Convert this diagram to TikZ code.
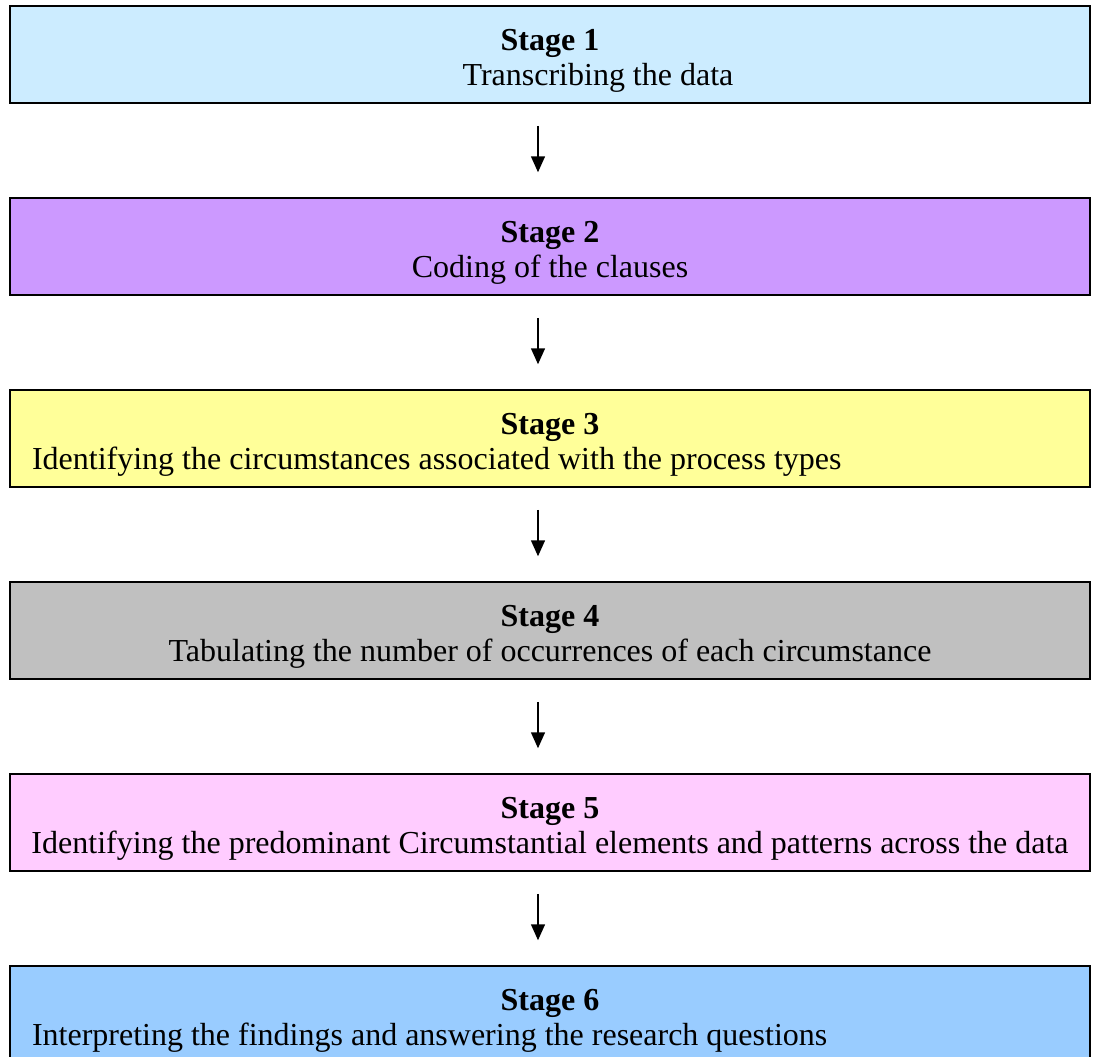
\documentclass[tikz,border=0pt]{standalone}
\usepackage{fontspec}
\setmainfont{Liberation Serif}
\usetikzlibrary{positioning,arrows.meta}
\definecolor{stageone}{HTML}{CCECFF}
\definecolor{stagetwo}{HTML}{CC99FF}
\definecolor{stagethree}{HTML}{FFFF99}
\definecolor{stagefour}{HTML}{C0C0C0}
\definecolor{stagefive}{HTML}{FFCCFF}
\definecolor{stagesix}{HTML}{99CCFF}
\newcommand{\stagetitle}[1]{\rule{0pt}{33pt}\textbf{Stage #1}}
\begin{document}
\begin{tikzpicture}[x=1pt,y=1pt,node distance=93.5pt,main node/.style={draw,line width=1.5pt,minimum width=1080pt,minimum height=97pt,inner sep=0pt,align=center,font=\fontsize{32}{35}\selectfont}]
        \useasboundingbox (0,0) rectangle (1095,-1057);
        \node[main node,fill=stageone] (1) at (550,-54.5) {\stagetitle{1}\\\hspace*{96pt}Transcribing the data};
        \node[main node,fill=stagetwo] (2) [below=of 1] {\stagetitle{2}\\Coding of the clauses};
        \node[main node,fill=stagethree] (3) [below=of 2] {\stagetitle{3}\\\makebox[1036pt][l]{Identifying the circumstances associated with the process types}};
        \node[main node,fill=stagefour] (4) [below=of 3] {\stagetitle{4}\\Tabulating the number of occurrences of each circumstance};
        \node[main node,fill=stagefive] (5) [below=of 4] {\stagetitle{5}\\Identifying the predominant Circumstantial elements and patterns across the data};
        \node[main node,fill=stagesix] (6) [below=of 5] {\stagetitle{6}\\\makebox[1036pt][l]{Interpreting the findings and answering the research questions}};
        \path[-{Triangle[length=16pt,width=14pt]},line width=1.5pt,shorten <=22pt,shorten >=25pt]
        ([xshift=-12pt]1.south) edge ([xshift=-12pt]2.north)
        ([xshift=-12pt]2.south) edge ([xshift=-12pt]3.north)
        ([xshift=-12pt]3.south) edge ([xshift=-12pt]4.north)
        ([xshift=-12pt]4.south) edge ([xshift=-12pt]5.north)
        ([xshift=-12pt]5.south) edge ([xshift=-12pt]6.north);
    \end{tikzpicture}
\end{document}
